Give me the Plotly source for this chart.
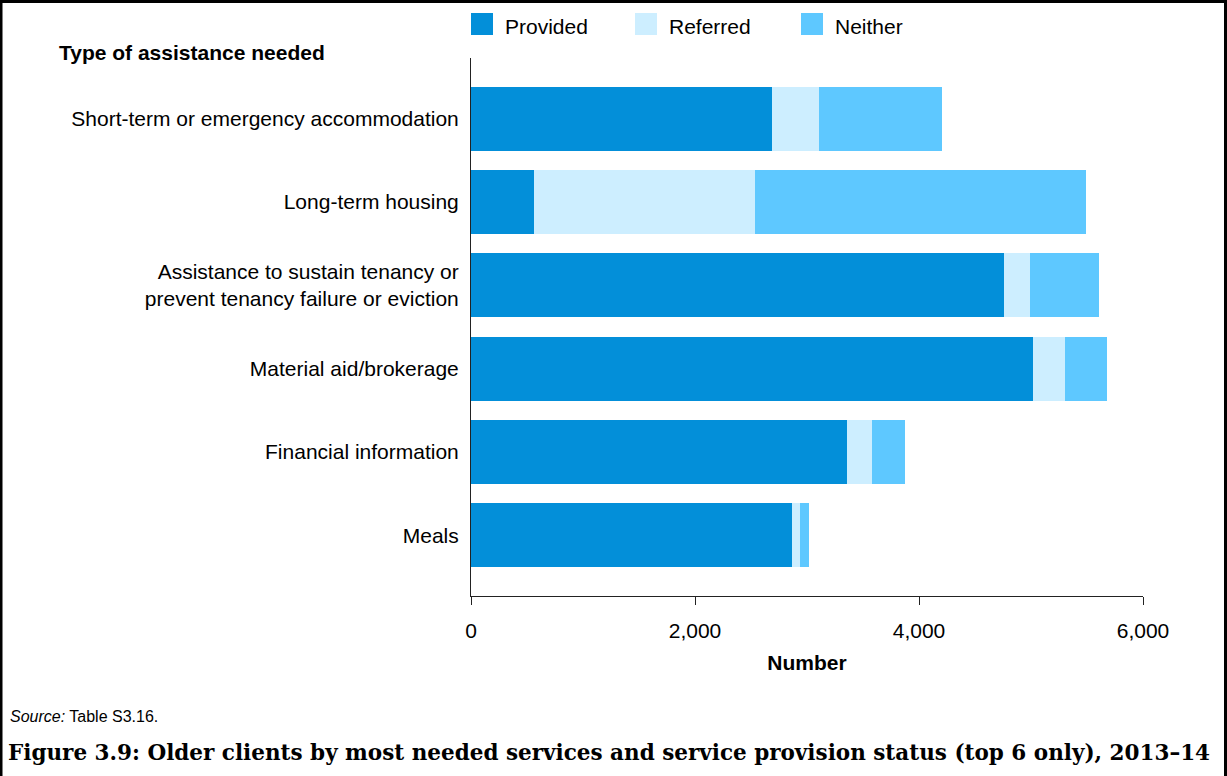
import plotly.graph_objects as go

categories = [
    "Short-term or emergency accommodation",
    "Long-term housing",
    "Assistance to sustain tenancy or<br>prevent tenancy failure or eviction",
    "Material aid/brokerage",
    "Financial information",
    "Meals",
]
provided = [2685, 563, 4757, 5019, 3355, 2867]
referred = [423, 1976, 235, 283, 226, 74]
neither = [1095, 2953, 616, 375, 295, 78]
series_names = ["Provided", "Referred", "Neither"]
series_colors = ["#038fd9", "#cdeeff", "#5ec8ff"]
x_ticks = [0, 2000, 4000, 6000]
x_tick_labels = ["0", "2,000", "4,000", "6,000"]

W, H = 1227, 776
L, R, T, B = 471, 1143, 58, 596  # plot area in pixels
PW, PH = R - L, B - T


def px(x):
    return (x - L) / PW


def py(y):
    return (B - y) / PH


FONT = "Liberation Sans, Arial, sans-serif"

fig = go.Figure()
for name, vals, col in zip(series_names, [provided, referred, neither], series_colors):
    fig.add_trace(go.Bar(
        y=categories, x=vals, name=name, orientation="h",
        marker=dict(color=col, line=dict(width=0)),
        width=0.77, showlegend=False,
    ))

fig.update_layout(
    barmode="stack",
    width=W, height=H,
    margin=dict(l=L, r=W - R, t=T, b=H - B, pad=0),
    paper_bgcolor="white", plot_bgcolor="white",
    font=dict(family=FONT, size=21, color="#000000"),
    xaxis=dict(
        range=[0, 6000], tickvals=x_ticks, ticktext=x_tick_labels,
        showgrid=False, zeroline=False, showline=True, linecolor="#222222", linewidth=1,
        ticks="outside", ticklen=8, tickcolor="#222222", tickwidth=1,
        tickfont=dict(size=21), ticklabelstandoff=8,
        title=dict(text="<b>Number</b>", font=dict(size=21), standoff=14),
    ),
    yaxis=dict(
        categoryorder="array", categoryarray=categories,
        range=[5.73, -0.73], showgrid=False, zeroline=False,
        showline=True, linecolor="#222222", linewidth=1,
        ticks="", ticklabelstandoff=7, tickfont=dict(size=21),
    ),
)

annotations = [
    dict(text="<b>Type of assistance needed</b>", x=px(57), y=py(52), xref="paper", yref="paper",
         xanchor="left", yanchor="middle", showarrow=False, font=dict(size=21)),
    dict(text="<i>Source:</i> Table S3.16.", x=px(8), y=py(716), xref="paper", yref="paper",
         xanchor="left", yanchor="middle", showarrow=False, font=dict(size=16)),
    dict(text="<b>Figure 3.9: Older clients by most needed services and service provision status (top 6 only), 2013–14</b>",
         x=px(6), y=py(752), xref="paper", yref="paper", xanchor="left", yanchor="middle", showarrow=False,
         font=dict(size=21.5, family="DejaVu Serif, serif")),
]

shapes = []
legend_x = [471, 635, 801]
for i, (name, col) in enumerate(zip(series_names, series_colors)):
    x0 = legend_x[i]
    shapes.append(dict(type="rect", xref="paper", yref="paper",
                       x0=px(x0), x1=px(x0 + 22), y0=py(35), y1=py(13),
                       fillcolor=col, line=dict(width=0)))
    annotations.append(dict(text=name, x=px(x0 + 32), y=py(27), xref="paper", yref="paper",
                            xanchor="left", yanchor="middle", showarrow=False, font=dict(size=21)))

# outer frame
shapes.append(dict(type="rect", xref="paper", yref="paper",
                   x0=px(1), x1=px(1225.5), y0=py(790), y1=py(1.5),
                   line=dict(color="black", width=3), fillcolor="rgba(0,0,0,0)"))

fig.update_layout(annotations=annotations, shapes=shapes)
fig.write_html("out.html", config={"displayModeBar": False},
               post_script="document.body.style.margin='0';document.body.style.padding='0';")
